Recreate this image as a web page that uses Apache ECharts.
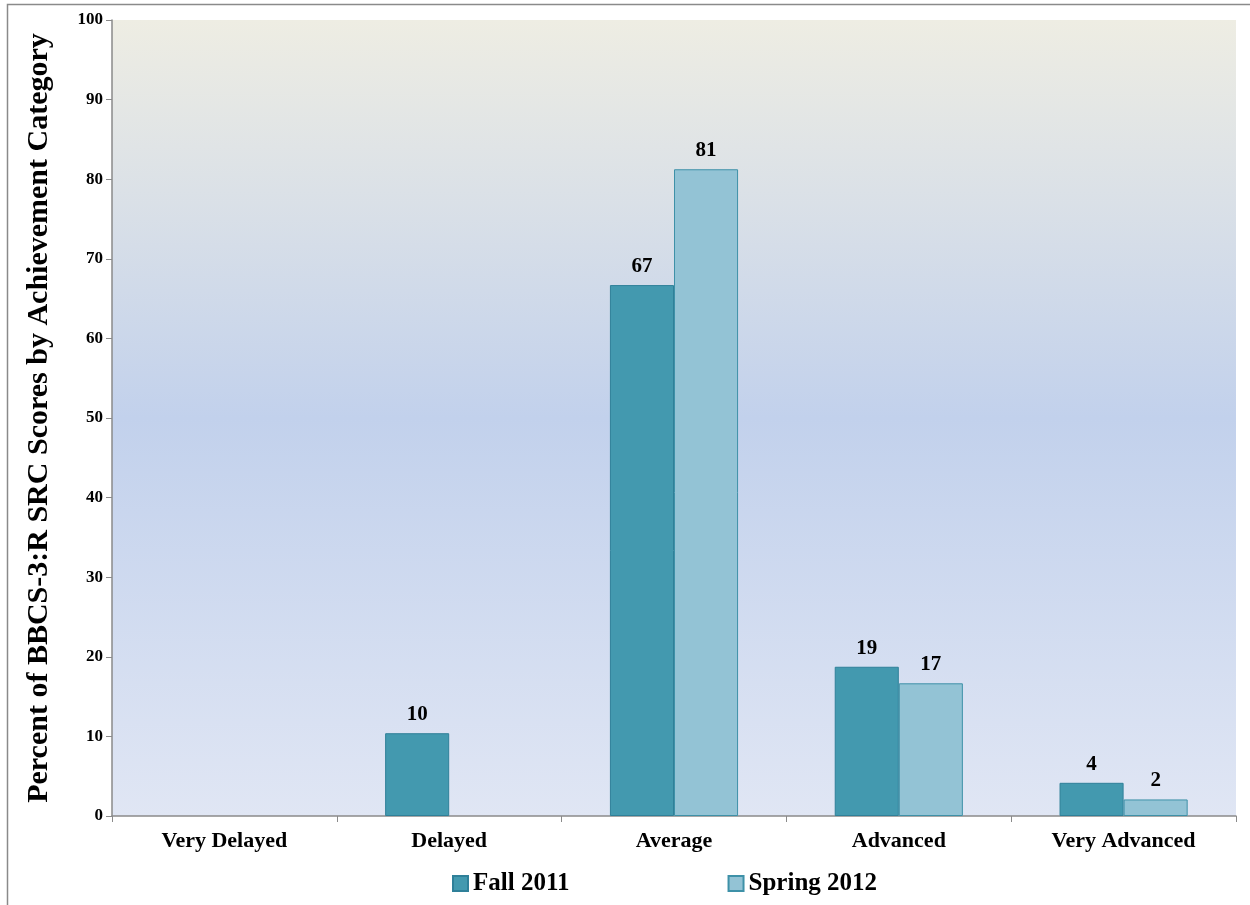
<!DOCTYPE html>
<html>
<head>
<meta charset="utf-8">
<script src="https://cdn.jsdelivr.net/npm/echarts@6/dist/echarts.min.js"></script>
<style>
html,body{margin:0;padding:0;background:#fff;}
#chart{width:1250px;height:905px;}
</style>
</head>
<body>
<div id="chart"></div>
<script>
const categories = ['Very Delayed', 'Delayed', 'Average', 'Advanced', 'Very Advanced'];
const fall2011 = [0, 10.4, 66.7, 18.75, 4.17];
const spring2012 = [0, 0, 81.25, 16.67, 2.08];
const seriesNames = ['Fall 2011', 'Spring 2012'];
const yTicks = {min: 0, max: 100, interval: 10};
const yAxisTitle = 'Percent of BBCS-3:R SRC Scores by Achievement Category';

const FONT = '"Liberation Serif", "Times New Roman", serif';
const chart = echarts.init(document.getElementById('chart'));

// zero values are not drawn as bars in the original
const asBars = arr => arr.map(v => (v === 0 ? '-' : v));

const labelCfg = {
  show: true,
  position: 'top',
  distance: 8,
  fontFamily: FONT,
  fontWeight: 'bold',
  fontSize: 21,
  color: '#000',
  formatter: p => (p.value ? Math.round(p.value).toString() : '')
};

chart.setOption({
  animation: false,
  backgroundColor: '#fff',
  graphic: [{
    type: 'rect',
    shape: {x: 7.5, y: 4.5, width: 1300, height: 1000},
    style: {fill: 'none', stroke: '#8a8a8a', lineWidth: 1.5},
    silent: true
  }],
  grid: {
    left: 112, right: 14, top: 20, bottom: 89,
    show: true,
    borderWidth: 0,
    backgroundColor: new echarts.graphic.LinearGradient(0, 0, 0, 1, [
      {offset: 0, color: '#EEEDE3'},
      {offset: 0.5, color: '#C2D1EC'},
      {offset: 1, color: '#E0E6F4'}
    ])
  },
  legend: {
    data: seriesNames,
    top: 866,
    left: 447,
    itemWidth: 15,
    itemHeight: 15,
    itemGap: 158,
    icon: 'rect',
    textStyle: {fontFamily: FONT, fontWeight: 'bold', fontSize: 25, color: '#000'}
  },
  xAxis: {
    type: 'category',
    data: categories,
    axisLine: {lineStyle: {color: '#8a8a8a', width: 1.5}},
    axisTick: {show: true, length: 6, lineStyle: {color: '#8a8a8a'}},
    axisLabel: {fontFamily: FONT, fontWeight: 'bold', fontSize: 22, color: '#000', margin: 14}
  },
  yAxis: {
    type: 'value',
    min: yTicks.min, max: yTicks.max, interval: yTicks.interval,
    name: yAxisTitle,
    nameLocation: 'middle',
    nameGap: 58,
    nameTextStyle: {fontFamily: FONT, fontWeight: 'bold', fontSize: 30, color: '#000'},
    axisLine: {show: true, lineStyle: {color: '#8a8a8a', width: 1.5}},
    axisTick: {show: true, length: 6, lineStyle: {color: '#8a8a8a'}},
    axisLabel: {fontFamily: FONT, fontWeight: 'bold', fontSize: 17, color: '#000', margin: 9},
    splitLine: {show: false}
  },
  series: [
    {
      name: seriesNames[0], type: 'bar', data: asBars(fall2011),
      barGap: '0%', barCategoryGap: '43%',
      itemStyle: {color: '#4399AF', borderColor: '#2F8099', borderWidth: 1},
      label: labelCfg
    },
    {
      name: seriesNames[1], type: 'bar', data: asBars(spring2012),
      itemStyle: {color: '#93C3D5', borderColor: '#3E91A8', borderWidth: 1},
      label: labelCfg
    }
  ]
});
</script>
</body>
</html>
